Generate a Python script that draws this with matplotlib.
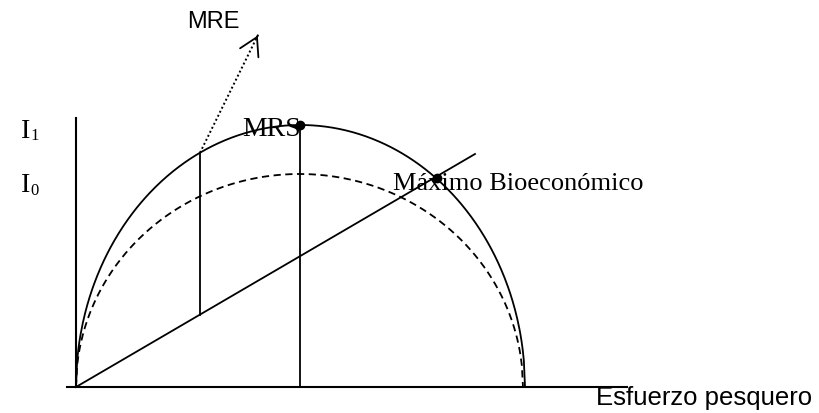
import numpy as np
import matplotlib.pyplot as plt

# diagram points (pixel-like coordinates, y grows downward)
origin = (76, 387)
e_max = [525, 523]          # effort where solid / dashed curve hit zero
peak_y = [125, 174]         # top of solid (I1) and dashed (I0) curve
cost_end = (475, 154)       # end of cost line
mre_x = 200
mrs_x = 300
bio_pt = (437, 178)
arrow_tip = (259, 33)

plt.rcParams['font.family'] = ['Liberation Serif', 'DejaVu Serif']
fig = plt.figure(figsize=(8.2, 4.13), dpi=100)
ax = fig.add_axes([0, 0, 1, 1])
ax.set_xlim(0, 820)
ax.set_ylim(413, 0)
ax.axis('off')

# axes
ax.plot([origin[0], origin[0]], [118, origin[1]], color='black', lw=1.5)
ax.plot([67, 627], [origin[1], origin[1]], color='black', lw=1.5)


def curve(xend, ytop):
    cx = (origin[0] + xend) / 2
    a = (xend - origin[0]) / 2
    x = np.linspace(origin[0], xend, 400)
    y = origin[1] - (origin[1] - ytop) * np.sqrt(np.clip(1 - ((x - cx) / a) ** 2, 0, 1))
    return x, y


def curve_y(xend, ytop, x):
    cx = (origin[0] + xend) / 2
    a = (xend - origin[0]) / 2
    return origin[1] - (origin[1] - ytop) * np.sqrt(1 - ((x - cx) / a) ** 2)


x1, y1 = curve(e_max[0], peak_y[0])
x0, y0 = curve(e_max[1], peak_y[1])
ax.plot(x1, y1, color='black', lw=1.3)
ax.plot(x0, y0, color='black', lw=1.3, ls=(0, (4, 2.5)))

# cost line
ax.plot([origin[0], cost_end[0]], [origin[1], cost_end[1]], color='black', lw=1.3)
slope = (cost_end[1] - origin[1]) / (cost_end[0] - origin[0])

# MRE vertical
top_mre = curve_y(e_max[0], peak_y[0], mre_x)
ax.plot([mre_x, mre_x], [top_mre, origin[1] + slope * (mre_x - origin[0])], color='black', lw=1.3)
# MRS vertical
ax.plot([mrs_x, mrs_x], [peak_y[0], origin[1]], color='black', lw=1.3)

# dotted arrow
ax.plot([mre_x, arrow_tip[0]], [top_mre, arrow_tip[1]], color='black', lw=1.4, ls=(0, (1, 1.3)))
dx = arrow_tip[0] - mre_x
dy = arrow_tip[1] - top_mre
ax.annotate('', xy=arrow_tip, xytext=(arrow_tip[0] - dx * 0.05, arrow_tip[1] - dy * 0.05),
            arrowprops=dict(arrowstyle='->,head_length=0.6,head_width=0.35', color='black',
                            lw=1.3, mutation_scale=21))

# dots
ax.plot([mrs_x, bio_pt[0]], [peak_y[0], bio_pt[1]], 'o', color='black', ms=6)

# labels
ax.text(213, 22, 'MRE', fontsize=17, family=['Liberation Sans'], ha='center', va='center')
ax.text(242, 130, 'MRS', fontsize=20, ha='left', va='center')
ax.text(393, 184, 'Máximo Bioeconómico', fontsize=19, ha='left', va='center')
ax.text(596, 398, 'Esfuerzo pesquero', fontsize=18.5, family=['Liberation Sans'], ha='left', va='center')
ax.text(21, 131, 'I', fontsize=20, ha='left', va='center')
ax.text(30, 136, '1', fontsize=12, ha='left', va='center')
ax.text(21, 186, 'I', fontsize=20, ha='left', va='center')
ax.text(30, 191, '0', fontsize=12, ha='left', va='center')

fig.savefig('out.png', dpi=100)
